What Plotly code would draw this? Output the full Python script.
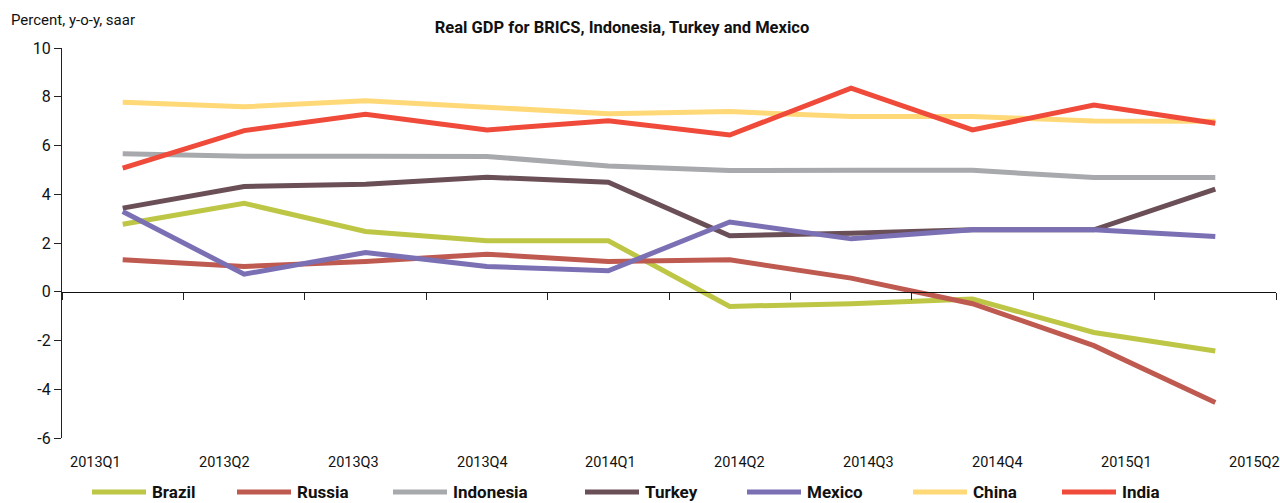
import plotly.graph_objects as go

quarters = ["2013Q1", "2013Q2", "2013Q3", "2013Q4", "2014Q1",
            "2014Q2", "2014Q3", "2014Q4", "2015Q1", "2015Q2"]

brazil    = [2.77, 3.63, 2.47, 2.09, 2.09, -0.60, -0.49, -0.30, -1.67, -2.43]
russia    = [1.31, 1.04, 1.24, 1.54, 1.24, 1.31, 0.56, -0.49, -2.21, -4.54]
indonesia = [5.66, 5.56, 5.56, 5.55, 5.16, 4.97, 4.98, 4.98, 4.69, 4.69]
turkey    = [3.43, 4.32, 4.41, 4.70, 4.49, 2.30, 2.40, 2.54, 2.54, 4.21]
mexico    = [3.29, 0.72, 1.61, 1.04, 0.86, 2.86, 2.17, 2.54, 2.54, 2.27]
china     = [7.77, 7.59, 7.84, 7.57, 7.30, 7.39, 7.19, 7.19, 7.01, 7.00]
india     = [5.07, 6.61, 7.28, 6.64, 7.01, 6.43, 8.35, 6.64, 7.66, 6.91]

series_names = ["Brazil", "Russia", "Indonesia", "Turkey", "Mexico", "China", "India"]
series_values = [brazil, russia, indonesia, turkey, mexico, china, india]
series_colors = ["#BEC645", "#BF5A50", "#A8A9AD", "#6A4F57", "#7B70B4", "#FFD978", "#EF4A3A"]

y_ticks = [-6, -4, -2, 0, 2, 4, 6, 8, 10]
y_ticktext = ["-6", "-4", "-2", "0", "2", "4", "6", "8", "10"]

FONT = "Roboto, Liberation Sans, sans-serif"

W, H = 1280, 503
ML, MR, MT, MB = 62, 4, 48, 65
plot_w = W - ML - MR
plot_h = H - MT - MB

x_idx = list(range(len(quarters)))

fig = go.Figure()
for name, vals, col in zip(series_names, series_values, series_colors):
    fig.add_trace(go.Scatter(
        x=x_idx, y=vals, mode="lines", name=name,
        line=dict(color=col, width=5), showlegend=False,
        hovertemplate="%{y}<extra>" + name + "</extra>",
    ))

y_min, y_max = -6, 10

fig.update_layout(
    width=W, height=H,
    margin=dict(l=ML, r=MR, t=MT, b=MB),
    plot_bgcolor="white", paper_bgcolor="white",
    font=dict(family=FONT, size=16, color="#111"),
    title=dict(text="<b>Real GDP for BRICS, Indonesia, Turkey and Mexico</b>",
               x=622 / W, xanchor="center", y=1 - 27 / H, yanchor="middle",
               font=dict(family=FONT, size=16.5, color="#111")),
    xaxis=dict(range=[-0.5, len(quarters) - 0.5],
               tickvals=[i - 0.5 for i in range(len(quarters) + 1)],
               showticklabels=False, ticks="outside", ticklen=7, tickwidth=1.2,
               tickcolor="#222", showline=True, linecolor="#111", linewidth=1.3,
               showgrid=False, zeroline=False,
               anchor="free", position=(0 - y_min) / (y_max - y_min)),
    yaxis=dict(range=[y_min, y_max], tickvals=y_ticks, ticktext=y_ticktext,
               ticks="outside", ticklen=7, tickwidth=1.2, tickcolor="#222",
               showline=True, linecolor="#222", linewidth=1.3,
               showgrid=False, zeroline=False,
               tickfont=dict(family=FONT, size=16, color="#111")),
)

# y-axis unit label
fig.add_annotation(text="Percent, y-o-y, saar", xref="paper", yref="paper",
                   x=(9 - ML) / plot_w, y=(H - MB - 20) / plot_h,
                   xanchor="left", yanchor="middle", showarrow=False,
                   font=dict(family=FONT, size=15, color="#111"))

# category labels (drawn offset, as in the original chart)
lab_start, lab_step = -0.222, 1.0608
for i, q in enumerate(quarters):
    fig.add_annotation(text=q, xref="x", yref="paper",
                       x=lab_start + lab_step * i, y=0, yshift=-24,
                       xanchor="center", yanchor="middle", showarrow=False,
                       font=dict(family=FONT, size=14.5, color="#111"))

# manual legend
legend_line_x = [92, 237, 393, 585, 747, 913, 1062]
legend_len = 54
legend_y_px = 492
ly = (H - MB - legend_y_px) / plot_h
for name, col, px in zip(series_names, series_colors, legend_line_x):
    fig.add_shape(type="line", xref="paper", yref="paper",
                  x0=(px - ML) / plot_w, x1=(px + legend_len - ML) / plot_w,
                  y0=ly, y1=ly, line=dict(color=col, width=5))
    fig.add_annotation(text="<b>" + name + "</b>", xref="paper", yref="paper",
                       x=(px + legend_len + 4 - ML) / plot_w, y=ly, yshift=0,
                       xanchor="left", yanchor="middle", showarrow=False,
                       font=dict(family=FONT, size=17, color="#111"))

fig.write_html("out.html", config={"displayModeBar": False},
               post_script="document.body.style.margin='0';document.body.style.overflow='hidden';")
